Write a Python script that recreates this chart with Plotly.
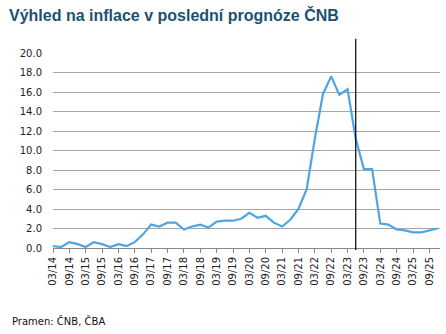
import plotly.graph_objects as go

quarters = [f"{m:02d}/{y:02d}" for y in range(14, 26) for m in (3, 6, 9, 12)]
inflation = [
    0.2, 0.1, 0.6, 0.4,
    0.1, 0.6, 0.4, 0.1,
    0.4, 0.2, 0.6, 1.4,
    2.4, 2.2, 2.6, 2.6,
    1.9, 2.2, 2.4, 2.1,
    2.7, 2.8, 2.8, 3.0,
    3.6, 3.1, 3.3, 2.6,
    2.2, 2.9, 4.0, 6.0,
    11.2, 15.8, 17.6, 15.7,
    16.3, 11.2, 8.1, 8.1,
    2.5, 2.4, 1.9, 1.8,
    1.6, 1.6, 1.8, 2.0,
]
tick_labels = [q for q in quarters if q[:2] in ("03", "09")]
forecast_start = "06/23"
title = "Výhled na inflace v poslední prognóze ČNB"
source = "Pramen: ČNB, ČBA"

x_idx = list(range(len(quarters)))
tick_idx = [quarters.index(t) for t in tick_labels]
vline_x = quarters.index(forecast_start)

fig = go.Figure()
fig.add_trace(go.Scatter(
    x=x_idx, y=inflation, mode="lines",
    line=dict(color="#4EA5E6", width=2.2),
    hoverinfo="skip",
))

fig.add_shape(type="line", xref="x", yref="paper",
              x0=vline_x, x1=vline_x, y0=-0.01, y1=1.073,
              line=dict(color="black", width=1.2))

fig.update_layout(
    width=446, height=334,
    margin=dict(l=53, r=6, t=53, b=86),
    paper_bgcolor="white", plot_bgcolor="white",
    showlegend=False,
    font=dict(family="DejaVu Sans", size=10, color="#222222"),
    annotations=[
        dict(text=f"<b>{title}</b>", xref="paper", yref="paper",
             x=-0.12, y=1.0, xanchor="left", yanchor="bottom",
             yshift=27, showarrow=False,
             font=dict(family="Liberation Sans", size=16, color="#1B5272")),
        dict(text=source, xref="paper", yref="paper",
             x=-0.112, y=0, xanchor="left", yanchor="middle",
             yshift=-73, showarrow=False,
             font=dict(family="DejaVu Sans", size=10, color="#111111")),
    ],
)
fig.update_xaxes(
    range=[0, 47.3], tickmode="array", tickvals=tick_idx, ticktext=tick_labels,
    tickangle=-90, ticks="outside", ticklen=4, tickcolor="#888888",
    showgrid=False, showline=True, linecolor="#888888", linewidth=1,
    zeroline=False, tickfont=dict(size=10),
)
fig.update_yaxes(
    range=[0, 20], tickmode="array", tickvals=list(range(0, 21, 2)),
    ticktext=[f"{v:.1f}" for v in range(0, 21, 2)],
    showgrid=True, gridcolor="#A6A6A6", gridwidth=1,
    zeroline=False, showline=False, ticks="", ticklabelstandoff=10,
    tickfont=dict(size=10),
)

fig.write_html("out.html")
